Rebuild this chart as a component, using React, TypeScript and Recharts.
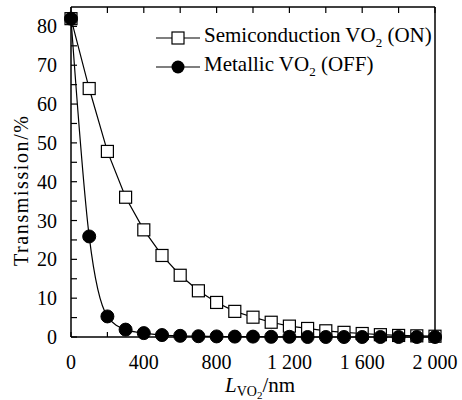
import React from 'react';
import { LineChart, Line, XAxis, YAxis, Legend } from 'recharts';

const thickness = [0, 100, 200, 300, 400, 500, 600, 700, 800, 900, 1000, 1100, 1200, 1300, 1400, 1500, 1600, 1700, 1800, 1900, 2000];
const semiconducting = [82, 64, 47.8, 36, 27.6, 21, 15.9, 11.9, 8.9, 6.6, 5.1, 3.8, 2.8, 2.2, 1.6, 1.2, 0.9, 0.6, 0.4, 0.3, 0.2];
const metallic = [82, 25.9, 5.3, 1.9, 1, 0.5, 0.3, 0.2, 0.15, 0.1, 0.1, 0.05, 0.05, 0, 0, 0, 0, 0, 0, 0, 0];
const xTicks = [0, 200, 400, 600, 800, 1000, 1200, 1400, 1600, 1800, 2000];
const yTicks = [0, 5, 10, 15, 20, 25, 30, 35, 40, 45, 50, 55, 60, 65, 70, 75, 80];

const data = thickness.map((t, i) => ({ t, on: semiconducting[i], off: metallic[i] }));

const FONT = '"Liberation Serif", "Times New Roman", serif';
const FS = 20;

const fmt = (v: number) => (v >= 1000 ? `${Math.floor(v / 1000)} ${String(v % 1000).padStart(3, '0')}` : String(v));

function BottomTick({ x, y, payload }: any) {
  const major = payload.value % 400 === 0;
  return (
    <g>
      <line x1={x} x2={x} y1={y} y2={y - 5} stroke="#000" strokeWidth={1.2} />
      {major && (
        <text x={x} y={y + 32} textAnchor="middle" fontFamily={FONT} fontSize={FS} fill="#000" style={{ whiteSpace: 'pre' }}>
          {fmt(payload.value)}
        </text>
      )}
    </g>
  );
}

function TopTick({ x, y }: any) {
  return <line x1={x} x2={x} y1={y} y2={y + 6} stroke="#000" strokeWidth={1.2} />;
}

function LeftTick({ x, y, payload }: any) {
  const major = payload.value % 10 === 0;
  return (
    <g>
      <line x1={x} x2={x + 6} y1={y} y2={y} stroke="#000" strokeWidth={1.2} />
      {major && (
        <text x={x - 14} y={y + 7} textAnchor="end" fontFamily={FONT} fontSize={FS} fill="#000">
          {payload.value}
        </text>
      )}
    </g>
  );
}

function RightTick({ x, y }: any) {
  return <line x1={x} x2={x - 6} y1={y} y2={y} stroke="#000" strokeWidth={1.2} />;
}

function SquareDot({ cx, cy }: any) {
  if (cx == null || cy == null) return null;
  return <rect x={cx - 6} y={cy - 6} width={12} height={12} fill="#fff" stroke="#000" strokeWidth={1.2} />;
}

function CircleDot({ cx, cy }: any) {
  if (cx == null || cy == null) return null;
  return <circle cx={cx} cy={cy} r={6.5} fill="#000" stroke="#000" />;
}

function LegendBox() {
  const row = (marker: React.ReactNode, label: React.ReactNode) => (
    <div style={{ display: 'flex', alignItems: 'center', height: 29 }}>
      <svg width={48} height={20} style={{ marginRight: 2 }}>
        <line x1={2} x2={46} y1={10} y2={10} stroke="#000" strokeWidth={1.2} />
        {marker}
      </svg>
      <span style={{ fontFamily: FONT, fontSize: 21, color: '#000', whiteSpace: 'nowrap' }}>{label}</span>
    </div>
  );
  return (
    <div>
      {row(
        <rect x={18} y={4} width={12} height={12} fill="#fff" stroke="#000" strokeWidth={1.2} />,
        <>Semiconduction VO<sub style={{ fontSize: 13 }}>2</sub> (ON)</>
      )}
      {row(
        <circle cx={24} cy={10} r={6.5} fill="#000" />,
        <>Metallic VO<sub style={{ fontSize: 13 }}>2</sub> (OFF)</>
      )}
    </div>
  );
}

function XLabel({ viewBox }: any) {
  const cx = viewBox.x + viewBox.width / 2 - 28;
  return (
    <text x={cx} y={viewBox.y + 55} fontFamily={FONT} fontSize={21} fill="#000">
      <tspan fontStyle="italic">L</tspan>
      <tspan fontSize={14} dy={4}>VO</tspan>
      <tspan fontSize={11} dy={3}>2</tspan>
      <tspan dy={-7}>/nm</tspan>
    </text>
  );
}

function YLabel({ viewBox }: any) {
  const x = viewBox.x + viewBox.width - 43;
  const y = viewBox.y + viewBox.height / 2 + 19;
  return (
    <text
      x={x}
      y={y}
      transform={`rotate(-90 ${x} ${y})`}
      textAnchor="middle"
      fontFamily={FONT}
      fontSize={20}
      textLength={150}
      lengthAdjust="spacing"
      fill="#000"
    >
      Transmission/%
    </text>
  );
}

export default function App() {
  return (
    <div style={{ width: 462, height: 400, background: '#fff' }}>
      <style>{`body{margin:0}`}</style>
      <LineChart width={462} height={400} data={data} margin={{ top: 6, right: 26, bottom: 33, left: 31 }}>
        <XAxis
          dataKey="t"
          type="number"
          domain={[0, 2000]}
          ticks={xTicks}
          interval={0}
          tickSize={0}
          tickMargin={0}
          tickLine={false}
          height={30}
          axisLine={{ stroke: '#000', strokeWidth: 1.5 }}
          tick={<BottomTick />}
          label={<XLabel />}
        />
        <XAxis
          xAxisId="top"
          orientation="top"
          dataKey="t"
          type="number"
          domain={[0, 2000]}
          ticks={xTicks}
          interval={0}
          tickSize={0}
          tickMargin={0}
          tickLine={false}
          height={1}
          axisLine={{ stroke: '#000', strokeWidth: 1.5 }}
          tick={<TopTick />}
        />
        <YAxis
          type="number"
          domain={[0, 85]}
          ticks={yTicks}
          interval={0}
          tickSize={0}
          tickMargin={0}
          tickLine={false}
          width={40}
          axisLine={{ stroke: '#000', strokeWidth: 1.5 }}
          tick={<LeftTick />}
          label={<YLabel />}
        />
        <YAxis
          yAxisId="right"
          orientation="right"
          type="number"
          domain={[0, 85]}
          ticks={yTicks}
          interval={0}
          tickSize={0}
          tickMargin={0}
          tickLine={false}
          width={1}
          axisLine={{ stroke: '#000', strokeWidth: 1.5 }}
          tick={<RightTick />}
        />
        <Legend
          layout="horizontal"
          verticalAlign="middle"
          align="center"
          content={<LegendBox />}
          wrapperStyle={{ top: 23, left: 154, width: 'auto' }}
        />
        <Line
          dataKey="on"
          type="linear"
          stroke="#000"
          strokeWidth={1.2}
          dot={<SquareDot />}
          activeDot={false}
          isAnimationActive={false}
        />
        <Line
          dataKey="off"
          type="monotone"
          stroke="#000"
          strokeWidth={1.2}
          dot={<CircleDot />}
          activeDot={false}
          isAnimationActive={false}
        />
      </LineChart>
    </div>
  );
}
